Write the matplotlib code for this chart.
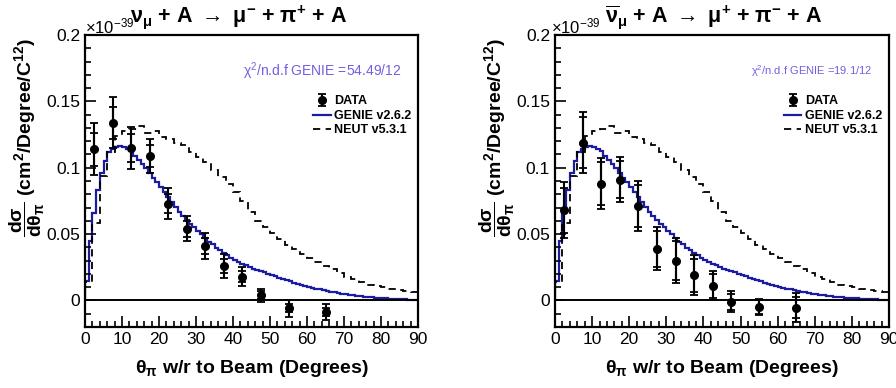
import matplotlib
matplotlib.use("Agg")
import matplotlib.pyplot as plt
from matplotlib.ticker import MultipleLocator
import numpy as np

plt.rcParams['font.family'] = ['Liberation Sans', 'DejaVu Sans']
plt.rcParams['mathtext.fontset'] = 'custom'
plt.rcParams['mathtext.rm'] = 'Liberation Sans'
plt.rcParams['mathtext.it'] = 'Liberation Sans:italic'
plt.rcParams['mathtext.bf'] = 'Liberation Sans:bold'
plt.rcParams['mathtext.default'] = 'regular'

# --- data (units of 1e-39 cm^2/Degree/C^12) ---
data_theta = [2.5, 7.5, 12.5, 17.5, 22.5, 27.5, 32.5, 37.5, 42.5, 47.5, 55, 65]

nu_xsec = [0.114, 0.134, 0.115, 0.109, 0.073, 0.054, 0.041, 0.026, 0.018, 0.004, -0.006, -0.009]
nu_tot_err = [0.0195, 0.0195, 0.016, 0.013, 0.012, 0.0095, 0.010, 0.0088, 0.0072, 0.005, 0.0063, 0.006]
nu_stat_err = [0.0125, 0.012, 0.0105, 0.0085, 0.007, 0.006, 0.006, 0.005, 0.004, 0.003, 0.003, 0.003]

nubar_xsec = [0.068, 0.119, 0.088, 0.091, 0.071, 0.039, 0.030, 0.019, 0.011, -0.001, -0.005, -0.0055]
nubar_tot_err = [0.021, 0.023, 0.019, 0.017, 0.019, 0.016, 0.017, 0.015, 0.011, 0.0078, 0.0063, 0.011]
nubar_stat_err = [0.017, 0.019, 0.016, 0.014, 0.016, 0.0135, 0.0145, 0.0125, 0.009, 0.006, 0.005, 0.008]

# GENIE prediction, 1 degree bins from 0 to 90
genie = [0.015, 0.045, 0.066, 0.083, 0.096, 0.105, 0.1116, 0.1144, 0.1157, 0.1162,
         0.1157, 0.1141, 0.1124, 0.1086, 0.1061, 0.103, 0.0997, 0.096, 0.0922, 0.0889,
         0.0854, 0.082, 0.0778, 0.0745, 0.0707, 0.0669, 0.0636, 0.0606, 0.0576, 0.055,
         0.0525, 0.050, 0.0467, 0.0442, 0.0422, 0.0399, 0.0379, 0.0359, 0.0341, 0.0323,
         0.0308, 0.029, 0.0278, 0.0265, 0.0253, 0.024, 0.0232, 0.0222, 0.0212, 0.0202,
         0.0192, 0.0182, 0.0172, 0.0162, 0.0152, 0.0143, 0.0134, 0.0125, 0.0117, 0.011,
         0.0103, 0.0096, 0.009, 0.0084, 0.0078, 0.0072, 0.0066, 0.0061, 0.0056, 0.0051,
         0.0047, 0.0043, 0.0039, 0.0035, 0.0032, 0.0029, 0.0026, 0.0023, 0.0021, 0.0019,
         0.0017, 0.0015, 0.0013, 0.0011, 0.001, 0.0009, 0.0008, 0.0007, 0.0006, 0.0005]

# NEUT prediction, 2 degree bins from 0 to 90
neut = [0.014, 0.058, 0.094, 0.112, 0.124, 0.1275, 0.1295, 0.1316, 0.1265, 0.128,
        0.1235, 0.1215, 0.119, 0.117, 0.112, 0.108, 0.104, 0.098, 0.093, 0.088,
        0.082, 0.075, 0.067, 0.060, 0.055, 0.051, 0.046, 0.042, 0.039, 0.035,
        0.032, 0.029, 0.026, 0.024, 0.021, 0.018, 0.016, 0.014, 0.012, 0.011,
        0.010, 0.009, 0.008, 0.007, 0.006]

chi2_labels = [r'$\chi^{2}$/n.d.f GENIE =54.49/12', r'$\chi^{2}$/n.d.f GENIE =19.1/12']
titles = [r'$\nu_{\mu}$ + A $\rightarrow$ $\mu^{-}$ + $\pi^{+}$ + A',
          r'$\overline{\nu}_{\mu}$ + A $\rightarrow$ $\mu^{+}$ + $\pi^{-}$ + A']

genie_color = '#1c1ca0'
chi2_color = '#7060e0'

fig = plt.figure(figsize=(8.96, 3.88), dpi=100)
ax_l = fig.add_axes([0.0949, 0.1572, 0.3717, 0.7526])
ax_r = fig.add_axes([0.6194, 0.1572, 0.3728, 0.7526])

panels = [
    (ax_l, nu_xsec, nu_tot_err, nu_stat_err, 0, 10, 0.0, 0.135),
    (ax_r, nubar_xsec, nubar_tot_err, nubar_stat_err, 1, 8, -0.012, 0.15),
]

for ax, xsec, tot, stat, i, chi_fs, exp_x, title_x in panels:
    g_edges = np.linspace(0, 90, len(genie) + 1)
    n_edges = np.linspace(0, 90, len(neut) + 1)
    ax.stairs(genie, g_edges, color=genie_color, lw=1.6, label='GENIE v2.6.2')
    ax.stairs(neut, n_edges, color='black', lw=1.3, ls=(0, (4, 3)), label='NEUT v5.3.1')
    ax.axhline(0, color='black', lw=1.4)

    ax.errorbar(data_theta, xsec, yerr=tot, fmt='none', ecolor='black',
                elinewidth=1.5, capsize=3, capthick=1.3)
    ax.errorbar(data_theta, xsec, yerr=stat, fmt='o', color='black', ms=5.5,
                elinewidth=1.5, capsize=3, capthick=1.3, label='DATA')

    ax.set_xlim(0, 90)
    ax.set_ylim(-0.02, 0.2)
    ax.xaxis.set_major_locator(MultipleLocator(10))
    ax.xaxis.set_minor_locator(MultipleLocator(2))
    ax.yaxis.set_minor_locator(MultipleLocator(0.01))
    ax.set_yticks([0, 0.05, 0.1, 0.15, 0.2])
    ax.set_yticklabels(['0', '0.05', '0.1', '0.15', '0.2'])
    ax.tick_params(which='both', direction='in', top=False, right=False,
                   labelsize=12.5, width=1.2)
    ax.tick_params(which='major', length=8)
    ax.tick_params(which='minor', length=4)
    for s in ax.spines.values():
        s.set_linewidth(1.6)

    ax.set_xlabel(r'$\theta_{\pi}$ w/r to Beam (Degrees)', fontsize=14,
                  fontweight='bold', labelpad=8)
    ax.set_ylabel(r'$\mathbf{\dfrac{d\sigma}{d\theta_{\pi}}}$ (cm$^{2}$/Degree/C$^{12}$)',
                  fontsize=14, fontweight='bold')
    ax.yaxis.set_label_coords(-0.115, 0.65)

    ax.text(exp_x, 1.007, r'$\times$10$^{-39}$', transform=ax.transAxes,
            fontsize=12, ha='left', va='baseline')
    ax.text(title_x, 1.044, titles[i], transform=ax.transAxes, fontsize=15.5,
            fontweight='bold', ha='left', va='baseline')
    ax.text(0.95, 0.875, chi2_labels[i], transform=ax.transAxes, fontsize=chi_fs,
            color=chi2_color, ha='right', va='center')

    h, l = ax.get_legend_handles_labels()
    order = [l.index('DATA'), l.index('GENIE v2.6.2'), l.index('NEUT v5.3.1')]
    ax.legend([h[k] for k in order], [l[k] for k in order],
              loc='upper left', bbox_to_anchor=(0.67, 0.81), frameon=False,
              prop={'weight': 'bold', 'size': 9}, handlelength=1.4,
              handletextpad=0.3, labelspacing=0.2, borderaxespad=0)

fig.savefig('out.png', dpi=100)
